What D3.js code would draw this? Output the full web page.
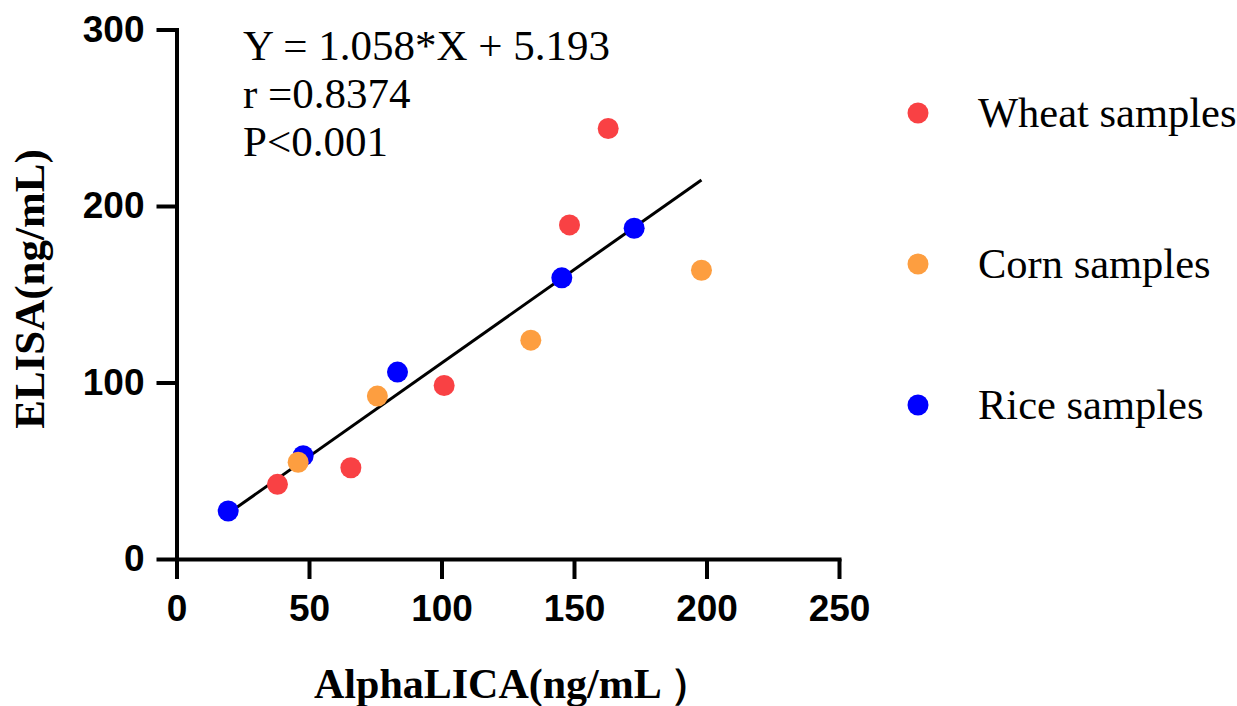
<!DOCTYPE html>
<html lang="en">
	<head>
		<meta charset="utf-8">
		<title>AlphaLICA vs ELISA</title>
		<script type="text/javascript" src="https://cdn.jsdelivr.net/npm/d3@7"></script>
		<style type="text/css">
			body { margin: 0; background: #fff; }
			.tick text { font-family: "Liberation Sans", Arial, sans-serif; font-weight: bold; font-size: 37px; fill: #000; }
			.serif { font-family: "Liberation Serif", "Times New Roman", serif; }
		</style>
	</head>
	<body>
		<script type="text/javascript">
			/** Data **/
			var seriesNames = ["Wheat samples", "Corn samples", "Rice samples"];
			var seriesColors = ["#F94144", "#FD9E40", "#0000FF"];
			var wheatX = [38.1, 65.8, 101.0, 148.3, 162.9];
			var wheatY = [42.3, 51.7, 98.3, 189.3, 243.9];
			var cornX = [45.9, 75.8, 133.7, 198.1];
			var cornY = [54.8, 92.3, 124.0, 163.6];
			var riceX = [19.5, 47.8, 83.4, 145.4, 172.7];
			var riceY = [27.2, 58.5, 105.9, 159.3, 187.4];
			var xTicks = [0, 50, 100, 150, 200, 250];
			var yTicks = [0, 100, 200, 300];
			var slope = 1.058;
			var intercept = 5.193;
			var statLines = ["Y = 1.058*X + 5.193", "r =0.8374", "P<0.001"];

			var width = 1237;
			var height = 706;

			var svg = d3.select("body")
						.append("svg")
						.attr("width", width)
						.attr("height", height);

			var x = d3.scaleLinear().domain([0, 250]).range([176.5, 839]);
			var y = d3.scaleLinear().domain([0, 300]).range([559, 29.5]);

			/** Axes **/
			var xAxis = svg.append("g")
				.attr("transform", "translate(0," + y(0) + ")")
				.call(d3.axisBottom(x).tickValues(xTicks).tickSize(20).tickSizeOuter(0).tickPadding(16));
			var yAxis = svg.append("g")
				.attr("transform", "translate(" + x(0) + ",0)")
				.call(d3.axisLeft(y).tickValues(yTicks).tickSize(20).tickSizeOuter(0).tickPadding(12));
			[xAxis, yAxis].forEach(function (g) {
				g.select(".domain").attr("stroke", "#000").attr("stroke-width", 4).attr("stroke-linecap", "square");
				g.selectAll(".tick line").attr("stroke", "#000").attr("stroke-width", 4);
				g.selectAll(".tick text").attr("fill", "#000");
			});

			/** Regression line over the x range of the samples **/
			var allX = wheatX.concat(cornX, riceX);
			var xMin = d3.min(allX), xMax = d3.max(allX);
			svg.append("line")
				.attr("x1", x(xMin)).attr("y1", y(slope * xMin + intercept))
				.attr("x2", x(xMax)).attr("y2", y(slope * xMax + intercept))
				.attr("stroke", "#000")
				.attr("stroke-width", 3);

			/** Points: rice, wheat, corn (corn on top) **/
			var groups = [
				{ xs: riceX, ys: riceY, color: seriesColors[2] },
				{ xs: wheatX, ys: wheatY, color: seriesColors[0] },
				{ xs: cornX, ys: cornY, color: seriesColors[1] }
			];
			groups.forEach(function (s) {
				svg.append("g").selectAll("circle")
					.data(d3.zip(s.xs, s.ys))
					.enter()
					.append("circle")
					.attr("cx", (d) => x(d[0]))
					.attr("cy", (d) => y(d[1]))
					.attr("r", 10.5)
					.attr("fill", s.color);
			});

			/** Stats text **/
			svg.append("g").selectAll("text")
				.data(statLines)
				.enter()
				.append("text")
				.attr("class", "serif")
				.attr("x", 243)
				.attr("y", (d, i) => 60 + i * 48)
				.attr("font-size", "43px")
				.attr("fill", "#000")
				.text((d) => d);

			/** Legend **/
			var legendY = [113, 264, 405];
			var legend = svg.append("g").selectAll("g")
				.data(seriesNames)
				.enter()
				.append("g")
				.attr("transform", (d, i) => "translate(918," + legendY[i] + ")");
			legend.append("circle")
				.attr("r", 10.5)
				.attr("fill", (d, i) => seriesColors[i]);
			legend.append("text")
				.attr("class", "serif")
				.attr("x", 60)
				.attr("y", 14)
				.attr("font-size", "42.5px")
				.attr("fill", "#000")
				.text((d) => d);

			/** Axis titles **/
			svg.append("text")
				.attr("class", "serif")
				.attr("x", 513)
				.attr("y", 698)
				.attr("text-anchor", "middle")
				.attr("font-size", "42px")
				.attr("font-weight", "bold")
				.text("AlphaLICA(ng/mL ）");
			svg.append("text")
				.attr("class", "serif")
				.attr("transform", "translate(44,289) rotate(-90)")
				.attr("text-anchor", "middle")
				.attr("font-size", "43px")
				.attr("font-weight", "bold")
				.text("ELISA(ng/mL)");
		</script>
	</body>
</html>
